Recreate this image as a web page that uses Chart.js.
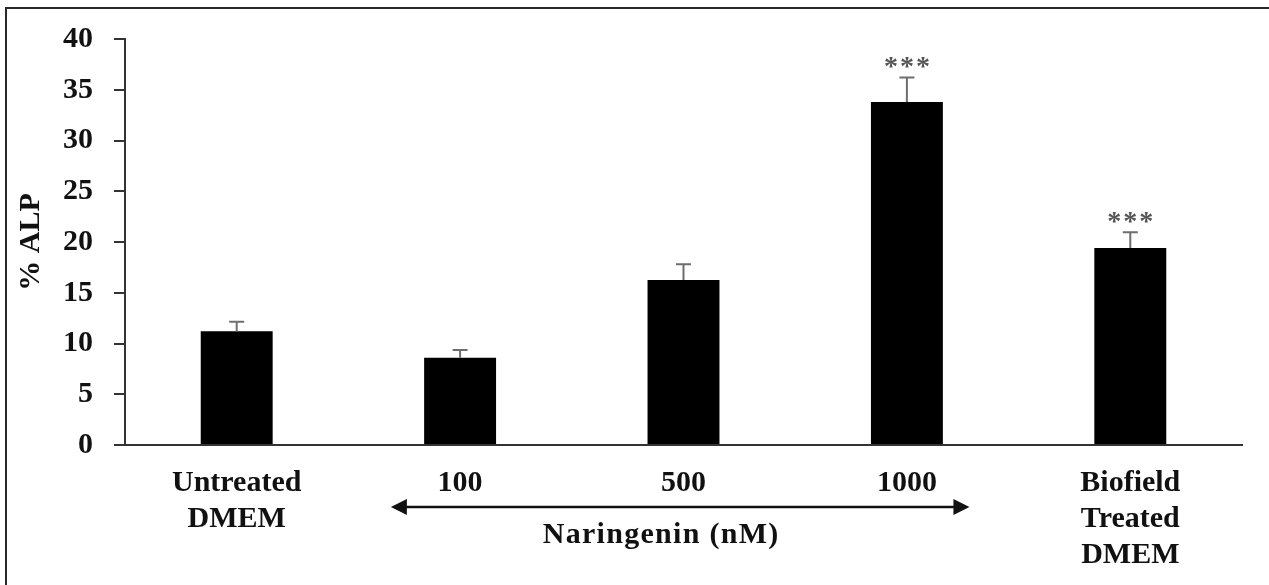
<!DOCTYPE html>
<html>
<head>
<meta charset="utf-8">
<script src="https://cdn.jsdelivr.net/npm/chart.js@4"></script>
<style>
  body { margin: 0; background: #fff; }
  #wrap { position: relative; width: 1269px; height: 585px; overflow: hidden; }
  #frame { position: absolute; left: 5px; top: 7px; width: 1400px; height: 700px;
           border-top: 2px solid #2a2a2a; border-left: 2px solid #2a2a2a; pointer-events: none; }
</style>
</head>
<body>
<div id="wrap">
  <canvas id="myChart" width="1269" height="585"></canvas>
  <div id="frame"></div>
</div>
<script>
// data
var labels = [['Untreated', 'DMEM'], '100', '500', '1000', ['Biofield', 'Treated', 'DMEM']]
var alpValues = [11.2, 8.6, 16.25, 33.8, 19.4]
var alpErrors = [0.95, 0.75, 1.55, 2.4, 1.55]
var stars = ['', '', '', '***', '***']
var yTicks = [0, 5, 10, 15, 20, 25, 30, 35, 40]
var groupLabel = 'Naringenin (nM)'

var serif = '"Liberation Serif", "Times New Roman", serif'

// upward error bars + significance stars
const errorBars = {
  id: 'errorBars',
  afterDatasetsDraw(chart) {
    const ctx = chart.ctx
    const y = chart.scales.y
    const meta = chart.getDatasetMeta(0)
    ctx.save()
    meta.data.forEach((bar, i) => {
      const top = y.getPixelForValue(alpValues[i])
      const errTop = y.getPixelForValue(alpValues[i] + alpErrors[i])
      ctx.strokeStyle = '#6e6e6e'
      ctx.lineWidth = 2
      ctx.beginPath()
      ctx.moveTo(bar.x, top)
      ctx.lineTo(bar.x, errTop)
      ctx.moveTo(bar.x - 7.5, errTop)
      ctx.lineTo(bar.x + 7.5, errTop)
      ctx.stroke()
      if (stars[i]) {
        ctx.fillStyle = '#555'
        ctx.font = 'bold 28px ' + serif
        ctx.letterSpacing = '2px'
        ctx.textAlign = 'center'
        ctx.textBaseline = 'middle'
        ctx.fillText(stars[i], bar.x + 1, errTop - 10)
      }
    })
    ctx.restore()
  }
}

// double-headed arrow under the naringenin doses
const doseArrow = {
  id: 'doseArrow',
  afterDraw(chart) {
    const ctx = chart.ctx
    const x = chart.scales.x
    const w = x.getPixelForValue(1) - x.getPixelForValue(0)
    const x1 = x.getPixelForValue(1) - 0.31 * w
    const x2 = x.getPixelForValue(3) + 0.28 * w
    const ay = x.top + 62
    ctx.save()
    ctx.strokeStyle = '#111'
    ctx.fillStyle = '#111'
    ctx.lineWidth = 2.5
    ctx.beginPath()
    ctx.moveTo(x1 + 10, ay)
    ctx.lineTo(x2 - 10, ay)
    ctx.stroke()
    ctx.beginPath()
    ctx.moveTo(x1, ay)
    ctx.lineTo(x1 + 16, ay - 8)
    ctx.lineTo(x1 + 16, ay + 8)
    ctx.closePath()
    ctx.fill()
    ctx.beginPath()
    ctx.moveTo(x2, ay)
    ctx.lineTo(x2 - 16, ay - 8)
    ctx.lineTo(x2 - 16, ay + 8)
    ctx.closePath()
    ctx.fill()
    ctx.font = 'bold 30px ' + serif
    ctx.letterSpacing = '1.3px'
    ctx.textAlign = 'center'
    ctx.textBaseline = 'middle'
    ctx.fillText(groupLabel, x.getPixelForValue(2) - 0.1 * w, x.top + 90)
    ctx.restore()
  }
}

const data = {
  labels: labels,
  datasets: [{
    label: '% ALP',
    data: alpValues,
    backgroundColor: '#000',
    borderWidth: 0,
    barPercentage: 0.322,
    categoryPercentage: 1
  }]
}

const config = {
  type: 'bar',
  data: data,
  options: {
    responsive: false,
    animation: false,
    devicePixelRatio: 1,
    layout: { padding: { left: 0, right: 27, top: 39, bottom: 0 } },
    plugins: { legend: { display: false }, tooltip: { enabled: false } },
    scales: {
      x: {
        grid: { display: false, drawTicks: false },
        border: { display: true, color: '#333', width: 2 },
        ticks: {
          color: '#111',
          padding: 20,
          maxRotation: 0,
          autoSkip: false,
          font: { family: serif, size: 30, weight: 'bold', lineHeight: 1.2 }
        },
        afterFit: s => { s.height = 140 }
      },
      y: {
        min: 0,
        max: 40,
        afterBuildTicks: s => { s.ticks = yTicks.map(v => ({ value: v })) },
        grid: { display: true, drawOnChartArea: false, drawTicks: true, tickLength: 11, color: '#333', lineWidth: 2 },
        border: { display: true, color: '#333', width: 2 },
        ticks: {
          color: '#111',
          padding: 21,
          font: { family: serif, size: 30, weight: 'bold' }
        },
        title: {
          display: true,
          text: '% ALP',
          color: '#111',
          padding: { top: 13, bottom: 0 },
          font: { family: serif, size: 30, weight: 'bold' }
        },
        afterFit: s => { s.width = 125 }
      }
    }
  },
  plugins: [errorBars, doseArrow]
}

const myChart = new Chart(document.getElementById('myChart'), config)
</script>
</body>
</html>
